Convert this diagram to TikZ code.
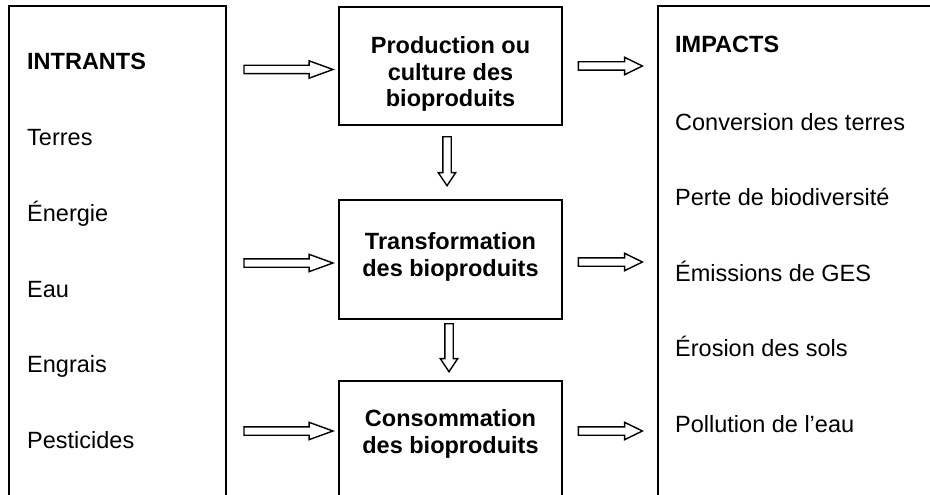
\documentclass[tikz,border=0pt]{standalone}
\usepackage{fontspec}
\setmainfont{Liberation Sans}
\usetikzlibrary{shapes.arrows,calc}

\tikzset{
  panel/.style={draw, line width=1.8pt, inner sep=0pt, outer sep=0pt, anchor=north west},
  item/.style={font=\fontsize{23.5}{26.5}\selectfont, inner sep=0pt, anchor=base west},
  stage/.style={font=\fontsize{23.5}{26.5}\selectfont\bfseries, align=center, inner sep=0pt},
  flowarrow/.style={single arrow, draw, line width=1.4pt, inner xsep=0pt, inner ysep=3.5pt,
    minimum width=16pt, single arrow head extend=4.5pt, anchor=tip},
}

\begin{document}
\begin{tikzpicture}[x=1pt,y=-1pt]
    \clip (0,0) rectangle (930,495);

    %Boxes
    \node[panel, minimum width=217pt, minimum height=520pt] (inputs) at (9,6) {};
    \node[panel, minimum width=223pt, minimum height=118pt] (prod) at (339,7) {};
    \node[panel, minimum width=223pt, minimum height=119pt] (trans) at (339,200) {};
    \node[panel, minimum width=223pt, minimum height=200pt] (cons) at (339,381) {};
    \node[panel, minimum width=300pt, minimum height=520pt] (impacts) at (658,6) {};

    % Text Node
    \node[stage] (prodtxt) at (450.5,74) {Production ou\\culture des\\bioproduits};
    % Text Node
    \node[stage] (transtxt) at (450.5,257) {Transformation\\des bioproduits};
    % Text Node
    \node[stage] (constxt) at (450.5,434) {Consommation\\des bioproduits};

    % Text Node
    \node[item, font=\fontsize{23.5}{26.5}\selectfont\bfseries] (intrants) at (27,70) {INTRANTS};
    \node[item] (terres) at (27,146) {Terres};
    \node[item] (energie) at (27,221) {Énergie};
    \node[item] (eau) at (27,297) {Eau};
    \node[item] (engrais) at (27,372) {Engrais};
    \node[item] (pesticides) at (27,448) {Pesticides};

    % Text Node
    \node[item, font=\fontsize{23.5}{26.5}\selectfont\bfseries] (impactstxt) at (675,53) {IMPACTS};
    \node[item] (conversion) at (675,130) {Conversion des terres};
    \node[item] (perte) at (675,205.5) {Perte de biodiversité};
    \node[item] (emissions) at (675,281) {Émissions de GES};
    \node[item] (erosion) at (675,356.5) {Érosion des sols};
    \node[item] (pollution) at (675,432) {Pollution de l’eau};

    %Block arrows into the stages
    \node[flowarrow, minimum height=89pt, single arrow tip angle=40] (inprod) at ($(prod.west |- 0,69.5)+(-4,0)$) {};
    \node[flowarrow, minimum height=89pt, single arrow tip angle=40] (intrans) at ($(trans.west |- 0,263)+(-4,0)$) {};
    \node[flowarrow, minimum height=89pt, single arrow tip angle=40] (incons) at ($(cons.west |- 0,431)+(-4,0)$) {};
    %Block arrows out of the stages
    \node[flowarrow, minimum height=64pt, single arrow tip angle=52] (prodout) at ($(impacts.west |- 0,66)+(-14,0)$) {};
    \node[flowarrow, minimum height=64pt, single arrow tip angle=52] (transout) at ($(impacts.west |- 0,262)+(-14,0)$) {};
    \node[flowarrow, minimum height=64pt, single arrow tip angle=52] (consout) at ($(impacts.west |- 0,431)+(-14,0)$) {};
    %Block arrows between the stages
    \node[flowarrow, rotate=-90, minimum height=49pt, single arrow tip angle=67] (prodtrans) at ($(trans.north)+(-3.5,-13)$) {};
    \node[flowarrow, rotate=-90, minimum height=48pt, single arrow tip angle=67] (transcons) at ($(cons.north)+(-1.5,-8)$) {};

\end{tikzpicture}
\end{document}
